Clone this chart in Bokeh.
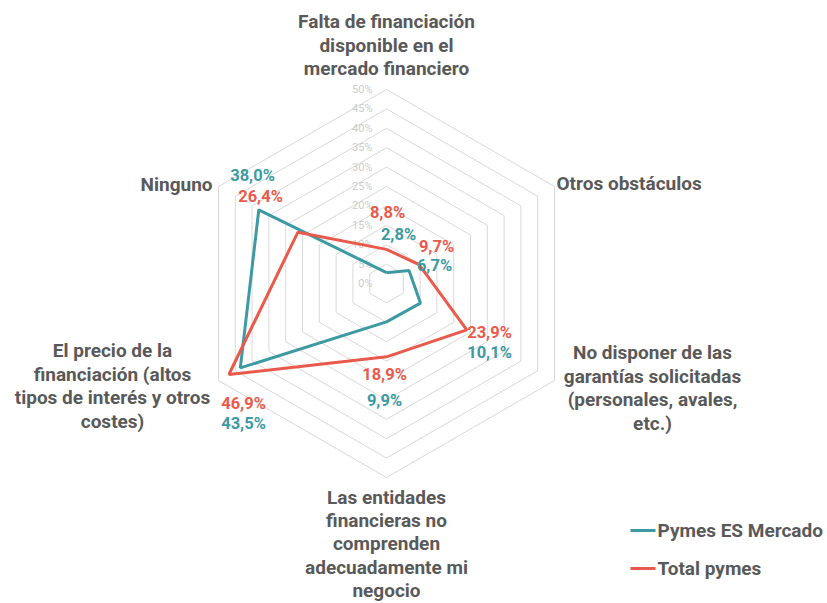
import numpy as np
from bokeh.plotting import figure
from bokeh.models import Range1d
from bokeh.core.properties import value
from bokeh.embed import file_html
from bokeh.resources import INLINE

categories = [
    "Falta de financiación\ndisponible en el\nmercado financiero",
    "Otros obstáculos",
    "No disponer de las\ngarantías solicitadas\n(personales, avales,\netc.)",
    "Las entidades\nfinancieras no\ncomprenden\nadecuadamente mi\nnegocio",
    "El precio de la\nfinanciación (altos\ntipos de interés y otros\ncostes)",
    "Ninguno",
]
pymes_es_mercado = [2.8, 6.7, 10.1, 9.9, 43.5, 38.0]
total_pymes = [8.8, 9.7, 23.9, 18.9, 46.9, 26.4]
ticks = [0, 5, 10, 15, 20, 25, 30, 35, 40, 45, 50]
tick_labels = [f"{t}%" for t in ticks]
series_names = ["Pymes ES Mercado", "Total pymes"]

TEAL = "#3d9aa2"
RED = "#ea5a4c"
GREY_TXT = "#595959"
GRID = "#d9d9d9"
FONT = value("Roboto")

W, H = 827, 603
OFF = 0
CX, CY = 386, 283  # screen coords of centre
R50 = 194.0
scale = R50 / 50.0

p = figure(width=W, height=H, output_backend="svg", toolbar_location=None,
           x_range=Range1d(-(CX - OFF), W - (CX - OFF)),
           y_range=Range1d((CY - OFF) - H, CY - OFF),
           min_border=0, outline_line_color=None)
p.axis.visible = False
p.grid.visible = False
p.background_fill_color = "white"
p.border_fill_color = "white"

n = len(categories)
angles = np.pi / 2 - np.arange(n) * 2 * np.pi / n

def polar(vals):
    v = np.asarray(vals, dtype=float) * scale
    return list(v * np.cos(angles)), list(v * np.sin(angles))

# grid rings
for t in ticks[1:]:
    xs, ys = polar([t] * n)
    p.line(xs + xs[:1], ys + ys[:1], line_color=GRID, line_width=1)

# tick labels
p.text(x=[-14] * len(ticks), y=[t * scale for t in ticks], text=tick_labels,
       text_font=FONT, text_font_size="11px", text_color="#cccccc",
       text_align="right", text_baseline="middle")

# series
for vals, col in [(pymes_es_mercado, TEAL), (total_pymes, RED)]:
    xs, ys = polar(vals)
    p.line(xs + xs[:1], ys + ys[:1], line_color=col, line_width=3)

def s2d(sx, sy):
    return sx - CX, CY - sy

# category labels (screen positions of first line centre, align, line height)
cat_pos = [
    (386, 21, "center", 23.7),
    (556, 183, "left", 23.7),
    (652, 352, "center", 23.7),
    (386, 497, "center", 23.2),
    (112, 350, "center", 23.7),
    (212, 184, "right", 23.7),
]
for lab, (sx, sy, al, lh) in zip(categories, cat_pos):
    for i, line in enumerate(lab.split("\n")):
        x, y = s2d(sx, sy + i * lh)
        p.text(x=[x], y=[y], text=[line], text_font=FONT, text_font_size="19px",
               text_font_style="bold", text_color=GREY_TXT, text_align=al,
               text_baseline="middle")

# data labels (screen centres)
teal_pos = [(398, 234), (434, 265), (489, 352), (384, 400), (243, 423), (252, 175)]
red_pos = [(387, 212), (436, 246), (489, 332), (384, 374), (243, 403), (260, 196)]
for vals, pos, col in [(pymes_es_mercado, teal_pos, TEAL), (total_pymes, red_pos, RED)]:
    xs = [s2d(*q)[0] for q in pos]
    ys = [s2d(*q)[1] for q in pos]
    txt = [f"{v:.1f}%".replace(".", ",") for v in vals]
    p.text(x=xs, y=ys, text=txt, text_font=FONT, text_font_size="16.5px",
           text_font_style="bold", text_color=col, text_align="center",
           text_baseline="middle")

# legend
for i, (name, col) in enumerate(zip(series_names, [TEAL, RED])):
    sy = 530 + i * 38
    x0, y0 = s2d(630, sy)
    x1, _ = s2d(655, sy)
    p.line([x0, x1], [y0, y0], line_color=col, line_width=3)
    xt, yt = s2d(657, sy)
    p.text(x=[xt], y=[yt], text=[name], text_font=FONT, text_font_size="19px",
           text_font_style="bold", text_color=GREY_TXT, text_align="left",
           text_baseline="middle")

open("out.html", "w").write(file_html(p, INLINE))
